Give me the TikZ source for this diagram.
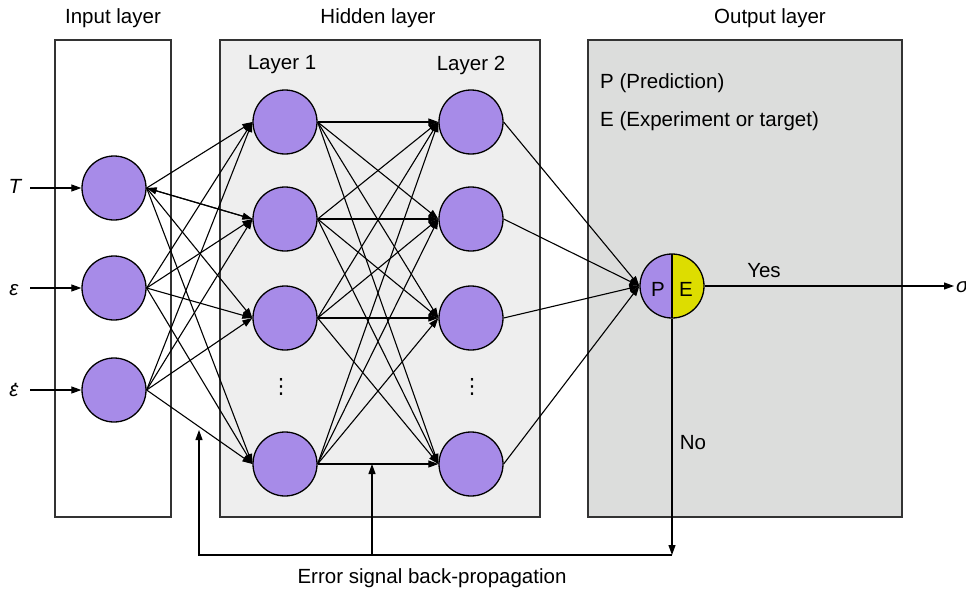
\documentclass[tikz,border=0pt]{standalone}
\usepackage{fontspec}
\setmainfont{Liberation Sans}
\newfontfamily\symfont{DejaVu Sans}
\usetikzlibrary{arrows.meta}

\definecolor{npurple}{HTML}{A78BE8}
\definecolor{nyellow}{HTML}{DDDD00}
\definecolor{hiddenfill}{HTML}{EEEEEE}
\definecolor{outfill}{HTML}{DCDDDC}
\definecolor{framecol}{HTML}{333333}

% epsilon with a dot above (time derivative)
\newcommand\epsdot{\itshape\makebox[0pt][l]{\kern0.2em\raisebox{0.55em}{.}}ε}

\begin{document}
\begin{tikzpicture}[x=1pt,y=-1pt,
  every node/.style={font=\fontsize{20.5}{24}\selectfont},
  txt/.style={inner sep=0pt},
  vdotsl/.style={inner sep=0pt,font=\symfont\fontsize{21}{24}\selectfont},
  neuron/.style={circle,draw=black,line width=1.3pt,fill=npurple,
                 minimum size=64pt,inner sep=0pt},
  layerbox/.style={draw=framecol,line width=1.4pt},
  link/.style={line width=1.1pt,-{Triangle[length=10pt,width=7pt]}}]

\useasboundingbox (0,0) rectangle (966,594);

% layer frames
\draw[layerbox,fill=white]      (55,40)  rectangle (171,517);
\draw[layerbox,fill=hiddenfill] (220,40) rectangle (540,517);
\draw[layerbox,fill=outfill]    (588,40) rectangle (902,517);

% titles
\node[txt] (tin)  at (113,18) {Input layer};
\node[txt] (thid) at (378,18) {Hidden layer};
\node[txt] (tout) at (770,18) {Output layer};
\node[txt] (lab1) at (282,65) {Layer 1};
\node[txt] (lab2) at (471,65) {Layer 2};
\node[txt,anchor=west] (pred) at (600,83)  {P (Prediction)};
\node[txt,anchor=west] (expt) at (600,121) {E (Experiment or target)};

% input neurons
\node[neuron] (in1) at (114,188) {};
\node[neuron] (in2) at (114,288) {};
\node[neuron] (in3) at (114,390) {};

% hidden layer 1 and layer 2
\foreach \n/\y in {1/122,2/219,3/318,4/464} {
  \node[neuron] (h\n) at (285,\y) {};
  \node[neuron] (g\n) at (471,\y) {};
}
\node[vdotsl] (dots1) at (281,387) {⋮};
\node[vdotsl] (dots2) at (472,387) {⋮};

% output neuron: prediction half and target half
\node[circle,draw=black,line width=1.3pt,minimum size=64pt,inner sep=0pt,
  path picture={
    \fill[npurple] (path picture bounding box.south west) rectangle (path picture bounding box.north);
    \fill[nyellow] (path picture bounding box.north) rectangle (path picture bounding box.south east);
    \draw[line width=1.3pt] (path picture bounding box.north) -- (path picture bounding box.south);
  }] (out) at (672,286) {};
\node[txt] (pl) at (658,289) {P};
\node[txt] (el) at (686,289) {E};

% inputs
\node[txt] (lT)  at (15,186) {\itshape T};
\node[txt] (le)  at (14,290) {\itshape ε};
\node[txt] (led) at (14,390) {\epsdot};
\coordinate (sT) at (30,188);
\coordinate (se) at (30,288);
\coordinate (sd) at (30,390);
\draw[link] (sT) -- (in1);
\draw[link] (se) -- (in2);
\draw[link] (sd) -- (in3);

% full connections
\foreach \i in {1,2,3} \foreach \j in {1,...,4}
  \draw[link] (in\i.east) -- (h\j.west);
\draw[link] (h2.west) -- (in1.east);
\foreach \i in {1,...,4} \foreach \j in {1,...,4}
  \draw[link] (h\i.east) -- (g\j.west);
\foreach \i in {1,...,4}
  \draw[link] (g\i.east) -- (out.west);

% decision
\coordinate (sig) at (954,286);
\draw[link] (out.east) -- (sig);
\node[txt,anchor=west] (sigl) at (956,287) {\itshape σ};
\node[txt] (yes) at (764,271) {Yes};
\node[txt] (no)  at (693,443) {No};

% error feedback
\coordinate (fb)   at (672,555);
\coordinate (fbl)  at (199,555);
\coordinate (fbm)  at (372,555);
\coordinate (tipl) at (199,430);
\coordinate (tipm) at (372,464);
\draw[link] (out.south) -- (fb);
\draw[link] (fb) -- (fbl) -- (tipl);
\draw[link] (fbm) -- (tipm);
\node[txt] (err) at (432,578) {Error signal back-propagation};
\end{tikzpicture}
\end{document}
